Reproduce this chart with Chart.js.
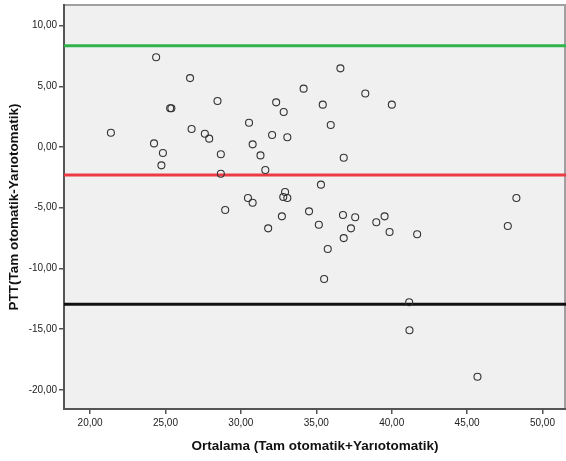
<!DOCTYPE html>
<html>
<head>
<meta charset="utf-8">
<script src="https://cdn.jsdelivr.net/npm/chart.js@4"></script>
<style>
  html, body { margin: 0; padding: 0; background: #fff; }
  #wrap { width: 566px; height: 461px; position: relative; }
</style>
</head>
<body>
<div id="wrap"><canvas id="blandAltman"></canvas></div>
<script>
// Ortalama (x) values
const ortalama = [
  21.38, 24.38, 26.63, 25.31, 25.39, 28.45, 26.73, 27.61, 27.90, 24.24,
  24.83, 28.67, 30.54, 30.78, 31.30, 32.07, 32.34, 32.84, 33.08, 34.16,
  35.43, 35.96, 36.60, 36.82, 38.25, 40.01, 24.73, 28.67, 31.62, 35.31,
  32.93, 32.81, 33.08, 30.47, 30.78, 28.96, 32.72, 34.52, 31.81, 35.17,
  36.77, 37.58, 37.30, 36.82, 35.76, 35.52, 38.98, 39.53, 39.86, 41.69,
  41.16, 47.70, 48.27, 41.18, 45.69
];
// Fark (y) values
const fark = [
  1.18, 7.39, 5.68, 3.19, 3.19, 3.79, 1.48, 1.09, 0.69, 0.30,
  -0.49, -0.60, 2.00, 0.22, -0.69, 0.99, 3.68, 2.88, 0.80, 4.81,
  3.49, 1.81, 6.48, -0.88, 4.41, 3.49, -1.51, -2.20, -1.89, -3.10,
  -3.71, -4.12, -4.20, -4.20, -4.59, -5.19, -5.71, -5.30, -6.70, -6.40,
  -5.60, -5.79, -6.70, -7.50, -8.40, -10.87, -6.20, -5.71, -7.00, -7.19,
  -12.79, -6.51, -4.20, -15.09, -18.92
];
const ustSinir = 8.35;
const ortalamaFark = -2.30;
const altSinir = -12.95;

const xMin = 18.27, xMax = 51.56;
const yMin = -21.58, yMax = 11.70;

const noktalar = ortalama.map((x, i) => ({ x: x, y: fark[i] }));
const yatayCizgi = (v) => [{ x: xMin, y: v }, { x: xMax, y: v }];

const fmt = (v) => v.toFixed(2).replace('.', ',');
const fontTick = { family: '"Liberation Sans", Arial, sans-serif', size: 10 };
const fontTitle = { family: '"Liberation Sans", Arial, sans-serif', size: 13.5, weight: 'bold' };

const plotBg = {
  id: 'plotBg',
  beforeDraw(chart) {
    const a = chart.chartArea, c = chart.ctx;
    c.save();
    c.fillStyle = '#f0f0f0';
    c.fillRect(a.left, a.top, a.right - a.left, a.bottom - a.top);
    c.strokeStyle = '#a0a0a0';
    c.lineWidth = 2;
    c.beginPath();
    c.moveTo(a.left, a.top);
    c.lineTo(a.right - 1, a.top);
    c.lineTo(a.right - 1, a.bottom);
    c.stroke();
    c.restore();
  }
};

const ctxBlandAltman = document.getElementById('blandAltman');

const lineDs = (v, color) => ({
  type: 'line',
  data: yatayCizgi(v),
  borderColor: color,
  borderWidth: 3,
  pointRadius: 0,
  order: 2
});

const chartBlandAltman = new Chart(ctxBlandAltman, {
  type: 'scatter',
  data: {
    datasets: [
      lineDs(ustSinir, '#2fb44b'),
      lineDs(ortalamaFark, '#ec3b44'),
      lineDs(altSinir, '#111111'),
      {
        data: noktalar,
        pointRadius: 3.5,
        pointBorderWidth: 1.1,
        pointBorderColor: '#333',
        pointBackgroundColor: 'rgba(0,0,0,0)',
        order: 1
      }
    ]
  },
  plugins: [plotBg],
  options: {
    responsive: true,
    maintainAspectRatio: false,
    animation: false,
    layout: { autoPadding: false, padding: { top: 5, right: 0, left: 0, bottom: 0 } },
    plugins: { legend: { display: false }, tooltip: { enabled: false } },
    scales: {
      x: {
        type: 'linear',
        min: xMin,
        max: xMax,
        afterFit: (s) => { s.height = 52; s.paddingLeft = 0; s.paddingRight = 0; },
        border: { display: true, color: '#555', width: 2 },
        grid: { display: true, drawOnChartArea: false, drawTicks: true, tickLength: 5, color: '#555', lineWidth: 1.5 },
        ticks: {
          stepSize: 5,
          includeBounds: false,
          padding: 3,
          maxRotation: 0,
          color: '#222',
          font: fontTick,
          callback: (v) => fmt(v)
        },
        title: {
          display: true,
          text: 'Ortalama (Tam otomatik+Yarıotomatik)',
          color: '#111',
          font: fontTitle,
          padding: { top: 0, bottom: 7 }
        }
      },
      y: {
        type: 'linear',
        min: yMin,
        max: yMax,
        afterFit: (s) => { s.width = 64; s.paddingTop = 0; s.paddingBottom = 0; },
        border: { display: true, color: '#555', width: 2 },
        grid: { display: true, drawOnChartArea: false, drawTicks: true, tickLength: 5, color: '#555', lineWidth: 1.5 },
        ticks: {
          stepSize: 5,
          includeBounds: false,
          padding: 2,
          color: '#222',
          font: fontTick,
          callback: (v) => fmt(v)
        },
        title: {
          display: true,
          text: 'PTT(Tam otomatik-Yarıotomatik)',
          color: '#111',
          font: fontTitle,
          padding: { top: 6, bottom: 0 }
        }
      }
    }
  }
});
</script>
</body>
</html>
